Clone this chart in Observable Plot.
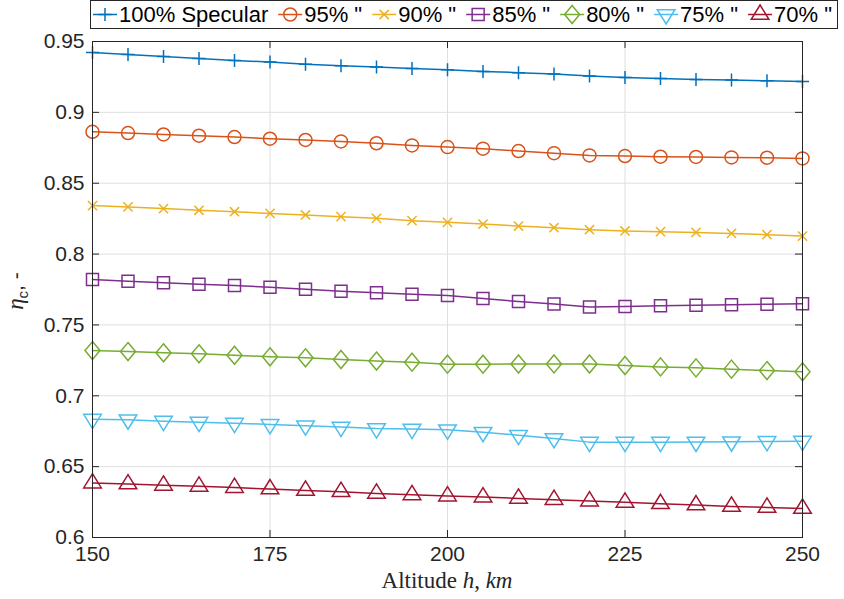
<!DOCTYPE html>
<html><head><meta charset="utf-8">
<script src="https://cdn.jsdelivr.net/npm/d3@7"></script>
<script src="https://cdn.jsdelivr.net/npm/@observablehq/plot@0.6"></script>
<style>
body{margin:0;background:#fff;}
#wrap{position:relative;width:844px;height:599px;background:#fff;}
#legend{position:absolute;left:0;top:0;}
</style></head><body><div id="wrap"></div>
<script>
// ---- data ----
const altitudes = [150,155,160,165,170,175,180,185,190,195,200,205,210,215,220,225,230,235,240,245,250];
const seriesNames = ["100% Specular", "95% \"", "90% \"", "85% \"", "80% \"", "75% \"", "70% \""];
const eta100 = [0.9422,0.9408,0.9394,0.9380,0.9366,0.9355,0.9340,0.9329,0.9320,0.9310,0.9300,0.9289,0.9280,0.9270,0.9256,0.9246,0.9239,0.9232,0.9228,0.9223,0.9218];
const eta95  = [0.8863,0.8854,0.8844,0.8835,0.8826,0.8814,0.8805,0.8795,0.8782,0.8767,0.8755,0.8744,0.8727,0.8712,0.8696,0.8692,0.8687,0.8685,0.8682,0.8680,0.8675];
const eta90  = [0.8342,0.8333,0.8321,0.8309,0.8299,0.8287,0.8276,0.8264,0.8252,0.8236,0.8224,0.8212,0.8198,0.8186,0.8172,0.8163,0.8158,0.8153,0.8146,0.8137,0.8127];
const eta85  = [0.7820,0.7808,0.7797,0.7787,0.7778,0.7766,0.7752,0.7737,0.7727,0.7716,0.7707,0.7686,0.7665,0.7647,0.7627,0.7630,0.7635,0.7639,0.7642,0.7646,0.7649];
const eta80  = [0.7319,0.7312,0.7303,0.7296,0.7286,0.7275,0.7268,0.7256,0.7245,0.7237,0.7223,0.7223,0.7224,0.7225,0.7224,0.7214,0.7204,0.7197,0.7188,0.7178,0.7169];
const eta75  = [0.6835,0.6831,0.6821,0.6814,0.6807,0.6798,0.6789,0.6779,0.6769,0.6765,0.6760,0.6743,0.6722,0.6699,0.6673,0.6673,0.6673,0.6674,0.6676,0.6678,0.6680];
const eta70  = [0.6384,0.6377,0.6368,0.6361,0.6352,0.6342,0.6332,0.6323,0.6311,0.6301,0.6292,0.6285,0.6276,0.6267,0.6257,0.6248,0.6238,0.6229,0.6219,0.6212,0.6205];
const seriesValues = [eta100, eta95, eta90, eta85, eta80, eta75, eta70];
const xTicks = [150,175,200,225,250];
const yTicks = [0.6,0.65,0.7,0.75,0.8,0.85,0.9,0.95];
const colors = ["#0072BD","#D95319","#EDB120","#7E2F8E","#77AC30","#4DBEEE","#A2142F"];

// ---- marker shapes (MATLAB-like) ----
const S = f => ({draw(c, size){ const k = Math.sqrt(size/Math.PI)/7; f(c,k); }});
const symbols = [
  S((c,k)=>{c.moveTo(-6.5*k,0);c.lineTo(6.5*k,0);c.moveTo(0,-6.5*k);c.lineTo(0,6.5*k);}),
  S((c,k)=>{c.moveTo(6.5*k,0);c.arc(0,0,6.5*k,0,2*Math.PI);}),
  S((c,k)=>{const d=4.6*k;c.moveTo(-d,-d);c.lineTo(d,d);c.moveTo(-d,d);c.lineTo(d,-d);}),
  S((c,k)=>{const s=6*k;c.moveTo(-s,-s);c.lineTo(s,-s);c.lineTo(s,s);c.lineTo(-s,s);c.closePath();}),
  S((c,k)=>{c.moveTo(0,-9*k);c.lineTo(7.5*k,0);c.lineTo(0,9*k);c.lineTo(-7.5*k,0);c.closePath();}),
  S((c,k)=>{c.moveTo(-8.8*k,-4.8*k);c.lineTo(8.8*k,-4.8*k);c.lineTo(0,9.5*k);c.closePath();}),
  S((c,k)=>{c.moveTo(0,-9.5*k);c.lineTo(8.8*k,4.8*k);c.lineTo(-8.8*k,4.8*k);c.closePath();})
];

const W = 844, H = 599, mL = 92, mR = 42, mT = 41, mB = 62;
const pw = W - mL - mR, ph = H - mT - mB, tick = 7;
const axisColor = "#262626";

const rows = seriesNames.map((name,i)=> altitudes.map((a,j)=>({alt:a, eta:seriesValues[i][j], series:name})));

const marks = [
  Plot.gridX(xTicks, {stroke:"#dfdfdf", strokeOpacity:1, strokeWidth:1}),
  Plot.gridY(yTicks, {stroke:"#dfdfdf", strokeOpacity:1, strokeWidth:1}),
];
rows.forEach((data,i)=>{
  marks.push(Plot.line(data, {x:"alt", y:"eta", stroke:colors[i], strokeWidth:1.5}));
  marks.push(Plot.dot(data, {x:"alt", y:"eta", stroke:colors[i], fill:"none", strokeWidth:1.5, r:7, symbol:symbols[i]}));
});
marks.push(
  Plot.frame({stroke:axisColor, strokeWidth:1}),
  Plot.ruleX(xTicks, {x:d=>d, insetTop:ph-tick, stroke:axisColor}),
  Plot.ruleX(xTicks, {x:d=>d, insetBottom:ph-tick, stroke:axisColor}),
  Plot.ruleY(yTicks, {y:d=>d, insetRight:pw-tick, stroke:axisColor}),
  Plot.ruleY(yTicks, {y:d=>d, insetLeft:pw-tick, stroke:axisColor}),
  Plot.axisX(xTicks, {tickSize:0, tickPadding:9, fontSize:21, label:null, fill:axisColor, tickFormat:d=>String(d)}),
  Plot.axisY(yTicks, {tickSize:0, tickPadding:8, fontSize:21, label:null, fill:axisColor, tickFormat:d=>String(d)})
);

const chart = Plot.plot({
  width:W, height:H, marginLeft:mL, marginRight:mR, marginTop:mT, marginBottom:mB,
  x:{domain:[150,250]},
  y:{domain:[0.6,0.95]},
  style:{fontFamily:"'Liberation Sans', Arial, sans-serif", background:"#fff", color:axisColor},
  marks
});
document.getElementById("wrap").appendChild(chart);

// axis titles
const svg = d3.select(chart);
const xl = svg.append("text").attr("x", mL + pw/2).attr("y", 588).attr("text-anchor","middle")
  .attr("font-family","'Liberation Serif', 'Times New Roman', serif").attr("font-size",23).attr("fill",axisColor);
xl.append("tspan").text("Altitude ");
xl.append("tspan").attr("font-style","italic").text("h");
xl.append("tspan").text(", ");
xl.append("tspan").attr("font-style","italic").text("km");

const yl = svg.append("text").attr("transform","translate(23,291) rotate(-90)").attr("text-anchor","middle")
  .attr("font-family","'Liberation Sans', Arial, sans-serif").attr("font-size",21).attr("fill",axisColor);
yl.append("tspan").attr("font-family","'Liberation Serif', serif").attr("font-style","italic").attr("font-size",23).text("η");
yl.append("tspan").attr("font-size",15).attr("dy",5).text("c");
yl.append("tspan").attr("dy",-5).text(", -");

// legend
const lg = d3.select("#wrap").append("svg").attr("id","legend").attr("width",W).attr("height",32);
lg.append("rect").attr("x",90.5).attr("y",0.5).attr("width",747).attr("height",28)
  .attr("fill","#fff").attr("stroke",axisColor).attr("stroke-width",1);
let x0 = 93;
seriesNames.forEach((name,i)=>{
  const g = lg.append("g");
  g.append("line").attr("x1",x0).attr("x2",x0+24).attr("y1",14.5).attr("y2",14.5)
    .attr("stroke",colors[i]).attr("stroke-width",1.5);
  g.append("path").attr("d", d3.symbol(symbols[i], 49*Math.PI)()).attr("transform",`translate(${x0+12},14.5)`)
    .attr("fill","none").attr("stroke",colors[i]).attr("stroke-width",1.5);
  const t = g.append("text").attr("x",x0+26).attr("y",22).attr("font-family","'Liberation Sans', Arial, sans-serif")
    .attr("font-size",22).attr("fill","#000").text(name);
  x0 = x0 + 26 + t.node().getComputedTextLength() + 10;
});
</script></body></html>
